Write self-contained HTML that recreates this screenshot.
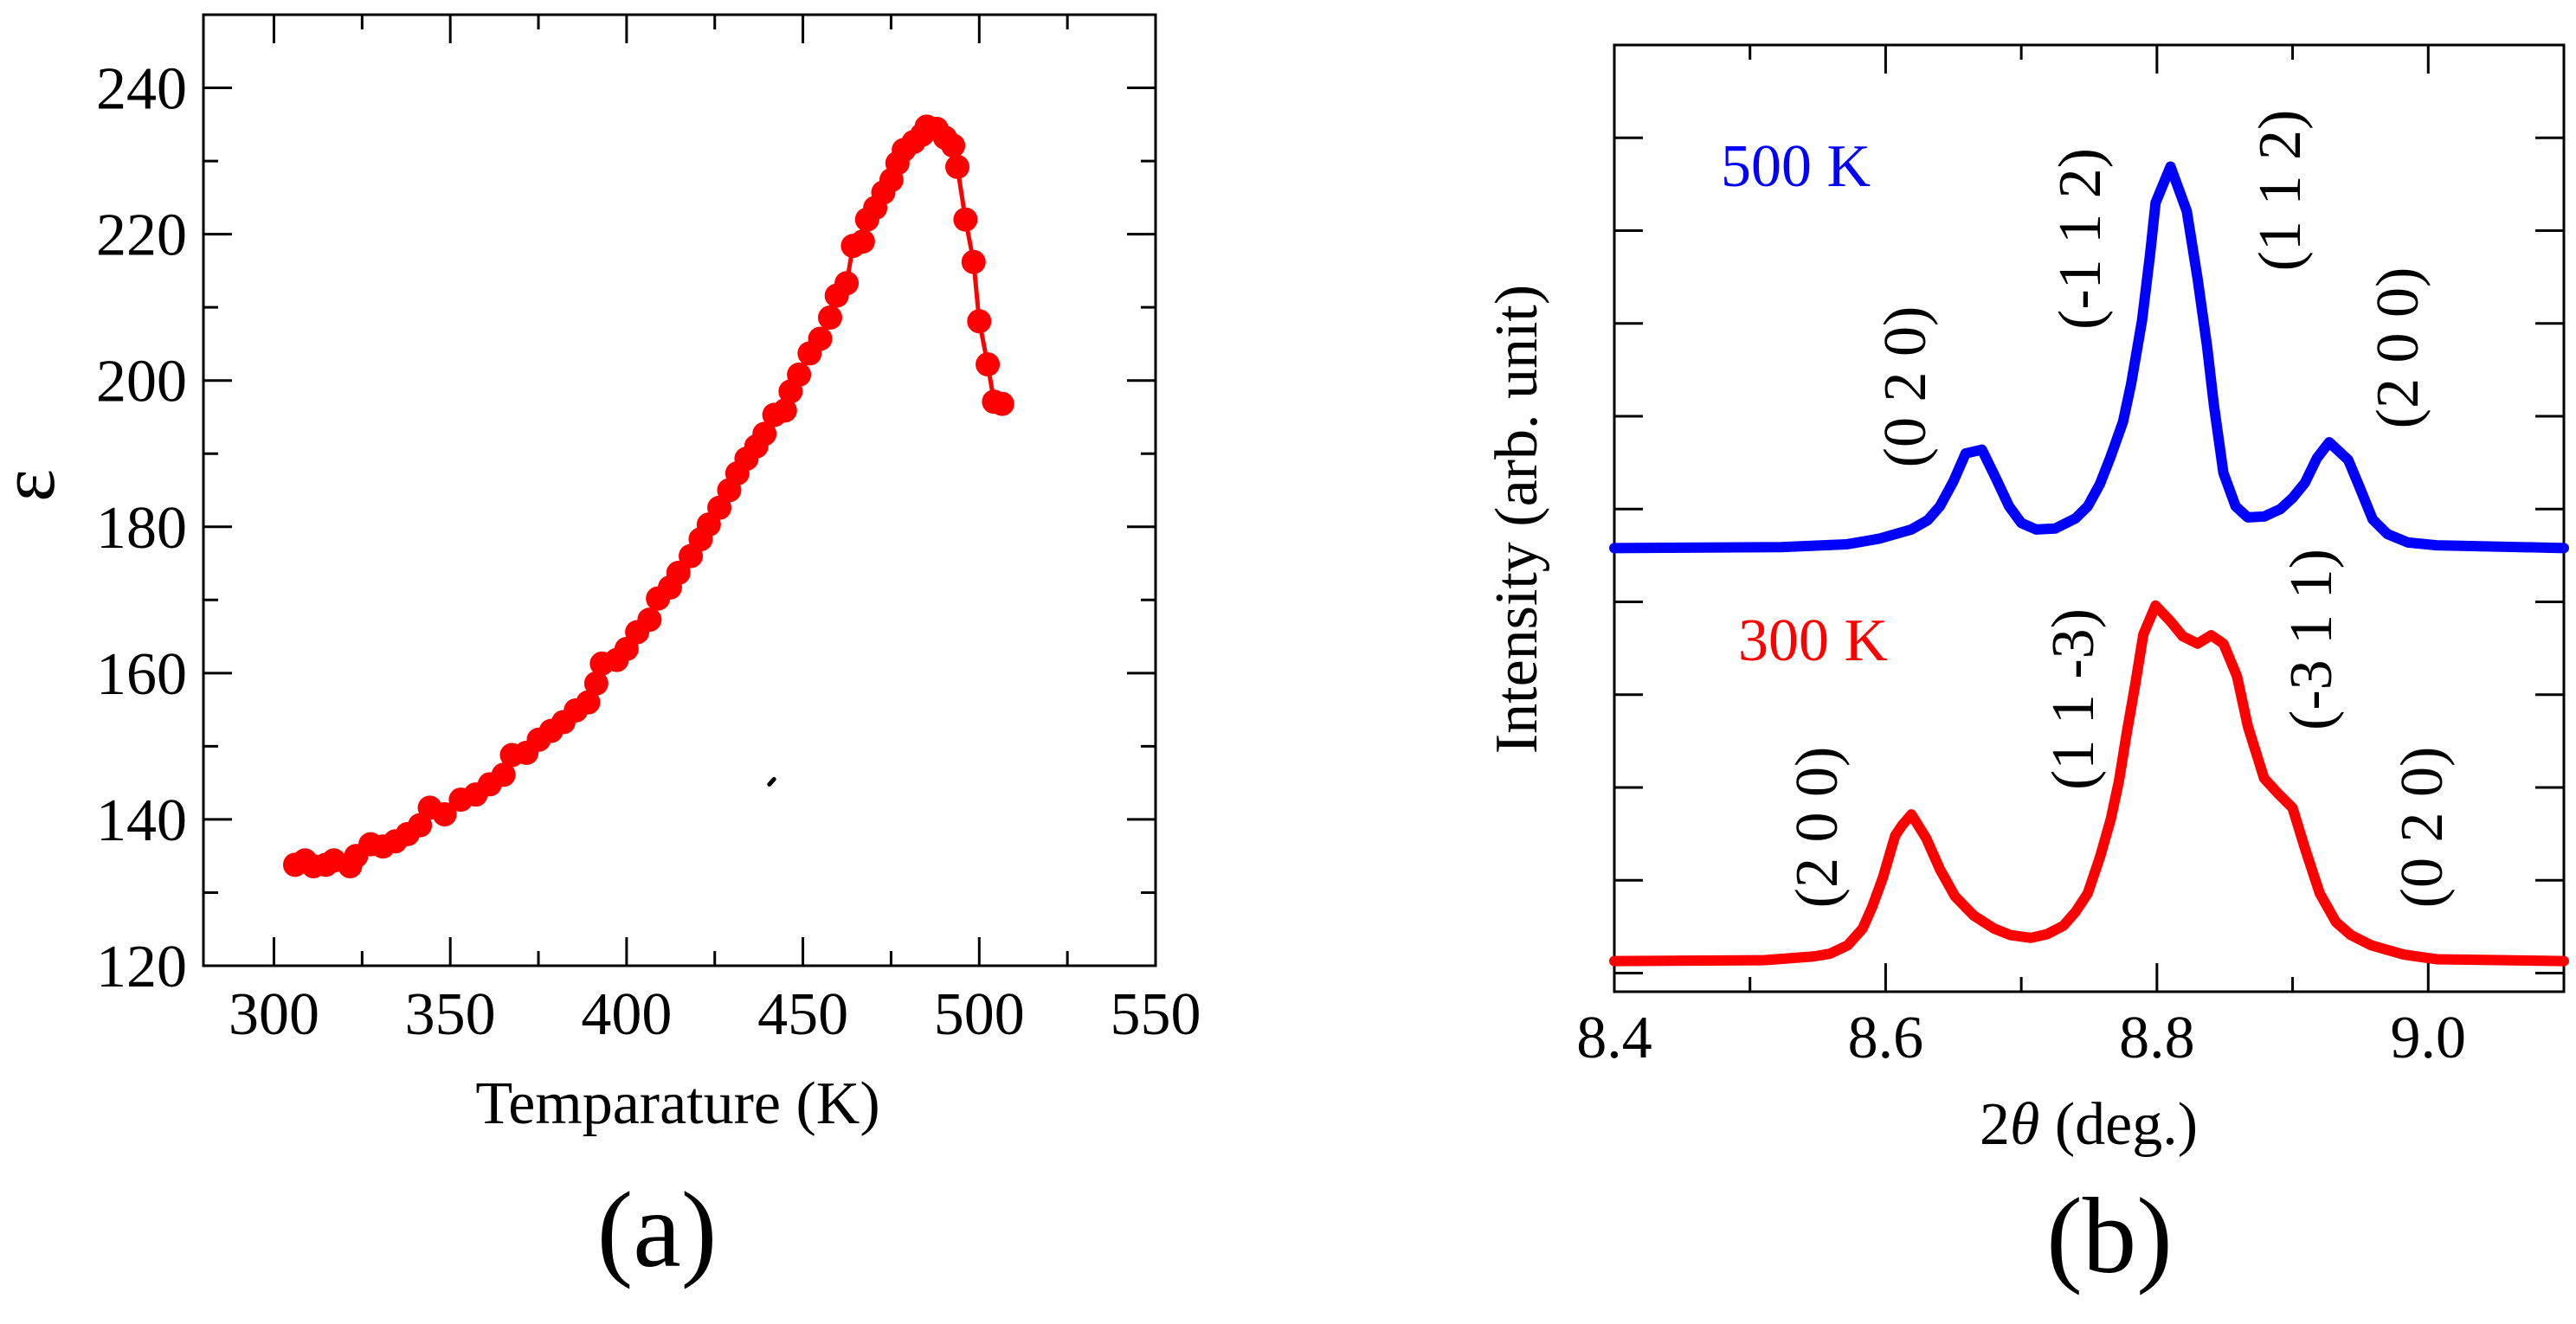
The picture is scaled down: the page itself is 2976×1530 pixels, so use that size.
<!DOCTYPE html>
<html><head><meta charset="utf-8">
<style>
html,body{margin:0;padding:0;background:#fff;}
svg{display:block;}
text{font-family:"Liberation Serif",serif;fill:#000;}
</style></head>
<body>
<svg id="fig" width="2976" height="1530" viewBox="0 0 2976 1530" xmlns="http://www.w3.org/2000/svg">
<g id="pa"></g>
<g id="pb"></g>
</svg>
<script>
// Panel (a) data
const tempK = [306.0,308.8,311.2,314.7,317.0,321.6,323.3,327.4,330.9,334.4,337.9,341.4,344.2,348.4,353.0,357.2,361.2,365.1,367.5,371.6,375.1,378.6,382.1,385.6,389.1,391.4,393.0,397.2,400.0,403.0,406.5,408.9,412.3,414.7,418.2,421.0,423.3,426.3,429.1,431.4,434.0,436.8,439.1,441.9,444.9,446.5,448.9,451.9,454.9,457.7,459.6,462.4,464.2,467.0,468.2,470.5,472.8,475.1,476.8,478.6,481.4,483.8,485.1,487.9,490.3,492.6,493.8,496.1,498.4,500.0,502.4,504.2,506.5];
const epsilon = [133.8,134.4,133.6,133.8,134.4,133.6,135.0,136.6,136.3,137.0,138.0,139.2,141.6,140.7,142.7,143.4,144.8,146.1,148.8,149.1,150.9,152.1,153.3,154.9,156.0,158.6,161.3,161.8,163.3,165.6,167.3,170.2,171.7,173.7,176.0,178.3,180.3,182.6,185.0,187.3,189.3,191.0,192.7,195.3,195.9,198.5,200.8,203.7,205.7,208.6,211.6,213.3,218.4,219.0,222.0,223.6,225.7,227.4,229.7,231.5,232.6,233.6,234.7,234.4,233.2,232.1,229.2,222.0,216.2,208.1,202.2,197.1,196.8];
const aXTicks = [300,350,400,450,500,550];
const aYTicks = [120,140,160,180,200,220,240];
// Panel (b) data
const twoTheta500 = [8.400,8.523,8.571,8.595,8.619,8.631,8.640,8.650,8.659,8.671,8.681,8.691,8.700,8.711,8.725,8.740,8.749,8.758,8.766,8.775,8.781,8.789,8.795,8.799,8.810,8.822,8.830,8.837,8.842,8.849,8.858,8.867,8.879,8.891,8.900,8.909,8.918,8.927,8.941,8.949,8.959,8.970,8.985,9.006,9.100];
const intensity500 = [4.58,4.59,4.62,4.68,4.78,4.88,5.03,5.30,5.60,5.64,5.34,5.03,4.85,4.78,4.79,4.90,5.03,5.27,5.57,5.94,6.35,7.03,7.75,8.30,8.69,8.21,7.48,6.75,6.12,5.39,5.03,4.91,4.92,5.00,5.12,5.28,5.55,5.72,5.53,5.25,4.89,4.73,4.64,4.61,4.58];
const twoTheta300 = [8.400,8.511,8.547,8.559,8.572,8.583,8.590,8.598,8.607,8.612,8.619,8.630,8.640,8.651,8.665,8.680,8.692,8.707,8.719,8.731,8.740,8.749,8.758,8.766,8.772,8.778,8.784,8.790,8.799,8.810,8.819,8.830,8.840,8.849,8.859,8.867,8.879,8.889,8.900,8.909,8.920,8.932,8.943,8.958,8.982,9.006,9.100];
const intensity300 = [0.13,0.14,0.18,0.21,0.30,0.48,0.71,1.03,1.48,1.59,1.71,1.45,1.12,0.83,0.62,0.48,0.41,0.38,0.42,0.51,0.66,0.86,1.25,1.66,2.07,2.61,3.11,3.65,3.96,3.79,3.63,3.55,3.64,3.55,3.20,2.66,2.10,1.94,1.78,1.35,0.86,0.55,0.41,0.30,0.20,0.15,0.13];
const bXTicks = [8.4,8.6,8.8,9.0];
const bXTickLabels = ["8.4","8.6","8.8","9.0"];
const bYTicks = [0,1,2,3,4,5,6,7,8,9];

const NS="http://www.w3.org/2000/svg";
function mk(parent,tag,attrs,txt){const e=document.createElementNS(NS,tag);for(const k in attrs)e.setAttribute(k,attrs[k]);if(txt!==undefined)e.textContent=txt;parent.appendChild(e);return e;}

// ---------- Panel A ----------
const pa=document.getElementById('pa');
const A={x0:235,x1:1335,y0:17,y1:1116,xmin:280,xmax:550,ymin:120,ymax:250};
const ax=v=>A.x0+(v-A.xmin)/(A.xmax-A.xmin)*(A.x1-A.x0);
const ay=v=>A.y1-(v-A.ymin)/(A.ymax-A.ymin)*(A.y1-A.y0);
let fa=mk(pa,'rect',{x:A.x0,y:A.y0,width:A.x1-A.x0,height:A.y1-A.y0,fill:'none',stroke:'#000','stroke-width':3});


for(let v=300;v<=550;v+=25){
  const L=(v%50===0)?33:17;const x=ax(v);
  let t1=mk(pa,'line',{x1:x,x2:x,y1:A.y1,y2:A.y1-L,stroke:'#000','stroke-width':3});
  
  
  let t2=mk(pa,'line',{x1:x,x2:x,y1:A.y0,y2:A.y0+L,stroke:'#000','stroke-width':3});
  
  
}
for(let v=130;v<=240;v+=10){
  const L=(v%20===0)?33:17;const y=ay(v);
  let t1=mk(pa,'line',{x1:A.x0,x2:A.x0+L,y1:y,y2:y,stroke:'#000','stroke-width':3});
  
  
  let t2=mk(pa,'line',{x1:A.x1,x2:A.x1-L,y1:y,y2:y,stroke:'#000','stroke-width':3});
  
  
}
aXTicks.forEach(v=>{
  let t=mk(pa,'text',{x:ax(v),y:1195,'font-size':70,'text-anchor':'middle'},String(v));
  
  
});
aYTicks.forEach(v=>{
  let t=mk(pa,'text',{x:216,y:ay(v)+24,'font-size':70,'text-anchor':'end'},String(v));
  
  
});
let xl=mk(pa,'text',{x:783,y:1298,'font-size':70,'text-anchor':'middle'},'Temparature (K)');


let yl=mk(pa,'text',{x:0,y:0,'font-size':90,'text-anchor':'middle',transform:'translate(62,561) rotate(-90)'},'ε');


let pl=mk(pa,'text',{x:759,y:1463,'font-size':125,'text-anchor':'middle'},'(a)');


let ln=mk(pa,'polyline',{points:tempK.map((t,i)=>ax(t)+','+ay(epsilon[i])).join(' '),fill:'none',stroke:'#ff0000','stroke-width':5});


tempK.forEach((t,i)=>{
  let c=mk(pa,'circle',{cx:ax(t),cy:ay(epsilon[i]),r:14,fill:'#ff0000'});
  
  
});
let dot=mk(pa,'line',{x1:ax(440.5),y1:ay(144.8),x2:ax(441.8),y2:ay(145.5),stroke:'#000','stroke-width':5,'stroke-linecap':'round'});



// ---------- Panel B ----------
const pb=document.getElementById('pb');
const B={x0:1865,x1:2962,y0:52,y1:1146,xmin:8.4,xmax:9.1,ymin:-0.2,ymax:10};
const bx=v=>B.x0+(v-B.xmin)/(B.xmax-B.xmin)*(B.x1-B.x0);
const by=v=>B.y1-(v-B.ymin)/(B.ymax-B.ymin)*(B.y1-B.y0);
let fb=mk(pb,'rect',{x:B.x0,y:B.y0,width:B.x1-B.x0,height:B.y1-B.y0,fill:'none',stroke:'#000','stroke-width':3});


for(let k=0;k<=7;k++){
  const v=8.4+k*0.1;const L=(k%2===0)?33:17;const x=bx(v);
  let t1=mk(pb,'line',{x1:x,x2:x,y1:B.y1,y2:B.y1-L,stroke:'#000','stroke-width':3});
  
  
  let t2=mk(pb,'line',{x1:x,x2:x,y1:B.y0,y2:B.y0+L,stroke:'#000','stroke-width':3});
  
  
}
bYTicks.forEach(v=>{
  const y=by(v);
  let t1=mk(pb,'line',{x1:B.x0,x2:B.x0+33,y1:y,y2:y,stroke:'#000','stroke-width':3});
  
  
  let t2=mk(pb,'line',{x1:B.x1,x2:B.x1-33,y1:y,y2:y,stroke:'#000','stroke-width':3});
  
  
});
bXTicks.forEach((v,i)=>{
  let t=mk(pb,'text',{x:bx(v),y:1222,'font-size':70,'text-anchor':'middle'},bXTickLabels[i]);
  
  
});
let xb=mk(pb,'text',{x:2413,y:1322,'font-size':70,'text-anchor':'middle'});


xb.innerHTML='2<tspan font-style="italic">θ</tspan> (deg.)';
let ybl=mk(pb,'text',{x:0,y:0,'font-size':70,'text-anchor':'middle',transform:'translate(1775,600) rotate(-90)'},'Intensity (arb. unit)');


let plb=mk(pb,'text',{x:2437,y:1470,'font-size':125,'text-anchor':'middle'},'(b)');


let l500=mk(pb,'polyline',{points:twoTheta500.map((t,i)=>bx(t)+','+by(intensity500[i])).join(' '),fill:'none',stroke:'#0000ff','stroke-width':12,'stroke-linejoin':'round','stroke-linecap':'round'});


let l300=mk(pb,'polyline',{points:twoTheta300.map((t,i)=>bx(t)+','+by(intensity300[i])).join(' '),fill:'none',stroke:'#ff0000','stroke-width':12,'stroke-linejoin':'round','stroke-linecap':'round'});


let k5=mk(pb,'text',{x:1988,y:215,'font-size':70},'500 K');


k5.style.fill='#0000ff';
let k3=mk(pb,'text',{x:2008,y:763,'font-size':70},'300 K');


k3.style.fill='#ff0000';
const peakLabels=[['(0 2 0)',2200,447],['(-1 1 2)',2402,276],['(1 1 2)',2633,220],['(2 0 0)',2769,402],['(2 0 0)',2098,956],['(1 1 -3)',2394,808],['(-3 1 1)',2669,739],['(0 2 0)',2797,956]];
peakLabels.forEach(p=>{
  let t=mk(pb,'text',{x:0,y:0,'font-size':70,'text-anchor':'middle',transform:'translate('+(p[1]+24)+','+p[2]+') rotate(-90)'},p[0]);
  
  
});
</script>
</body></html>
